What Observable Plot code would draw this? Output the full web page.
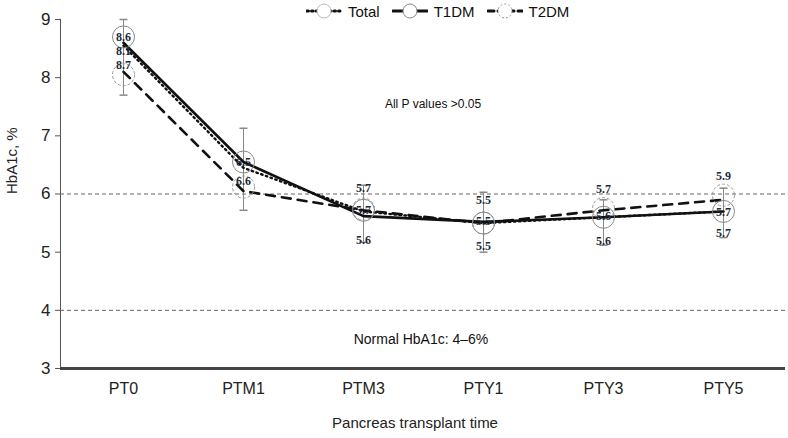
<!DOCTYPE html>
<html>
<head>
<meta charset="utf-8">
<script src="https://cdn.jsdelivr.net/npm/d3@7"></script>
<script src="https://cdn.jsdelivr.net/npm/@observablehq/plot@0.6"></script>
<style>
  html, body { margin: 0; padding: 0; background: #fff; }
  #wrap { position: relative; width: 788px; height: 438px; font-family: "Liberation Sans", Arial, sans-serif; }
  #legend { position: absolute; top: 2px; left: 306px; display: flex; gap: 12px; font-size: 15px; color: #111; align-items: center; }
  #legend .item { display: flex; align-items: center; gap: 6px; }
</style>
</head>
<body>
<div id="wrap"><div id="legend"></div></div>
<script>
// ---- data ----
const times = ["PT0", "PTM1", "PTM3", "PTY1", "PTY3", "PTY5"];
const total = [8.55, 6.45, 5.7, 5.5, 5.6, 5.7];
const t1dm  = [8.6, 6.55, 5.62, 5.52, 5.6, 5.7];
const t2dm  = [8.1, 6.05, 5.72, 5.5, 5.72, 5.9];
const t1dmMarker = [8.7, 6.55, 5.72, 5.5, 5.6, 5.7];
const t2dmMarker = [8.05, 6.12, 5.74, 5.5, 5.75, 5.98];
const errLow  = [7.7, 5.72, 5.17, 5.0, 5.12, 5.25];
const errHigh = [9.0, 7.13, 6.15, 6.03, 5.9, 6.1];
// value labels: time, anchor value, text
const labelTimes  = ["PT0","PT0","PT0","PTM1","PTM1","PTM3","PTM3","PTM3","PTY1","PTY1","PTY1","PTY3","PTY3","PTY3","PTY5","PTY5","PTY5"];
const labelValues = [8.69, 8.45, 8.21, 6.55, 6.22, 6.1, 5.72, 5.2, 5.9, 5.53, 5.1, 6.08, 5.62, 5.19, 6.3, 5.69, 5.33];
const labelTexts  = ["8.6","8.1","8.7","6.5","6.6","5.7","5.7","5.6","5.5","5.5","5.5","5.7","5.6","5.6","5.9","5.7","5.7"];
const normalRange = [4, 6];
const yTicks = [3, 4, 5, 6, 7, 8, 9];

const rows = (vals) => times.map((t, i) => ({time: t, value: vals[i]}));
const errRows = times.map((t, i) => ({time: t, lo: errLow[i], hi: errHigh[i]}));
const labels = labelTimes.map((t, i) => ({time: t, value: labelValues[i], text: labelTexts[i]}));

// horizontal cap symbol for error bars
const capSymbol = {
  draw(context, size) {
    const w = Math.sqrt(size / Math.PI);
    context.moveTo(-w, 0);
    context.lineTo(w, 0);
  }
};

const plot = Plot.plot({
  width: 788,
  height: 438,
  marginLeft: 60,
  marginRight: 3,
  marginTop: 19,
  marginBottom: 70,
  style: {fontFamily: "Liberation Sans, Arial, sans-serif", background: "#fff"},
  x: {type: "point", domain: times, padding: 0.5, label: null},
  y: {domain: [3, 9], label: null},
  marks: [
    Plot.ruleY(normalRange, {stroke: "#666", strokeWidth: 1, strokeDasharray: "4,3"}),
    Plot.axisY({ticks: yTicks, tickFormat: "d", tickSize: 5, tickPadding: 5, fontSize: 17, stroke: "#555", fill: "#222", label: null}),
    Plot.text(["HbA1c, %"], {frameAnchor: "left", rotate: -90, dx: -48, fontSize: 15, fill: "#222"}),
    Plot.axisX({tickSize: 0, tickPadding: 14, fontSize: 16, fill: "#222", label: null}),
    Plot.text(["Pancreas transplant time"], {frameAnchor: "bottom", dx: -8, dy: 59, fontSize: 15, fill: "#222"}),
    Plot.frame({anchor: "left", stroke: "#555", strokeWidth: 1}),
    Plot.ruleY([3], {stroke: "#444", strokeWidth: 3}),
    // error bars
    Plot.ruleX(errRows, {x: "time", y1: "lo", y2: "hi", stroke: "#888", strokeWidth: 1}),
    Plot.dot(errRows, {x: "time", y: "lo", symbol: capSymbol, r: 4, stroke: "#888", fill: "none"}),
    Plot.dot(errRows, {x: "time", y: "hi", symbol: capSymbol, r: 4, stroke: "#888", fill: "none"}),
    // lines
    Plot.line(rows(t2dm), {x: "time", y: "value", stroke: "#111", strokeWidth: 2.6, strokeDasharray: "9,7"}),
    Plot.line(rows(total), {x: "time", y: "value", stroke: "#111", strokeWidth: 2.4, strokeDasharray: "1.5,3.5", strokeLinecap: "round"}),
    Plot.line(rows(t1dm), {x: "time", y: "value", stroke: "#111", strokeWidth: 2.6}),
    // markers
    Plot.dot(rows(t2dmMarker), {x: "time", y: "value", r: 11, stroke: "#999", strokeWidth: 1, strokeDasharray: "3,2", fill: "none"}),
    Plot.dot(rows(t1dmMarker), {x: "time", y: "value", r: 11, stroke: "#888", strokeWidth: 1, fill: "none"}),
    // value labels
    Plot.text(labels, {x: "time", y: "value", text: "text", fontFamily: "Liberation Serif, Times New Roman, serif",
      fontWeight: "bold", fontSize: 12, fill: "#1d2a3a"}),
    // annotations
    Plot.text(["All P values >0.05"], {frameAnchor: "top", dx: 10, dy: 80, fontSize: 12, fill: "#111"}),
    Plot.text(["Normal HbA1c: 4\u20136%"], {frameAnchor: "bottom", dx: -2, dy: -25, fontSize: 14, fill: "#111"})
  ]
});
document.getElementById("wrap").prepend(plot);

// legend overlay
const legendItems = [
  {name: "Total", dash: "1.5,3", circleDash: null, circleStroke: "#bbb"},
  {name: "T1DM", dash: null, circleDash: null, circleStroke: "#888"},
  {name: "T2DM", dash: "6,4", circleDash: "2,2", circleStroke: "#999"}
];
const legend = document.getElementById("legend");
for (const it of legendItems) {
  const div = document.createElement("div");
  div.className = "item";
  div.innerHTML = `<svg width="36" height="18"><line x1="1" y1="9" x2="35" y2="9" stroke="#111" stroke-width="3" stroke-linecap="round" ${it.dash ? `stroke-dasharray="${it.dash}"` : ""}/>`
    + `<circle cx="18" cy="9" r="7" fill="#fff" stroke="${it.circleStroke}" ${it.circleDash ? `stroke-dasharray="${it.circleDash}"` : ""}/></svg><span>${it.name}</span>`;
  legend.appendChild(div);
}
</script>
</body>
</html>
